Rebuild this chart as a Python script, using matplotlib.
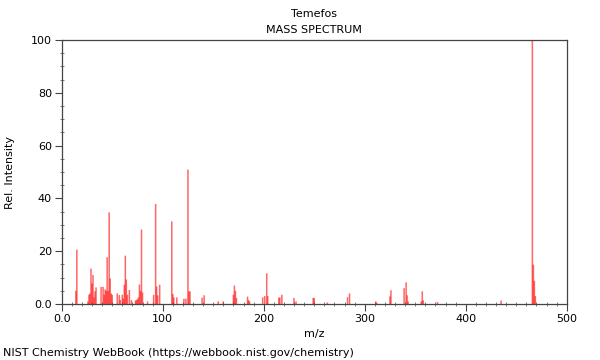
import matplotlib
matplotlib.use("Agg")
import matplotlib.pyplot as plt
from matplotlib.ticker import MultipleLocator, FuncFormatter

title = "Temefos"
subtitle = "MASS SPECTRUM"
xlabel = "m/z"
ylabel = "Rel. Intensity"
footer = "NIST Chemistry WebBook (https://webbook.nist.gov/chemistry)"

mz = [14, 15, 26, 27, 28, 29, 30, 31, 32, 33, 34, 39, 41, 42, 43, 44, 45, 46, 47, 48,
      49, 50, 55, 57, 58, 60, 61, 62, 63, 64, 65, 67, 69, 73, 74, 75, 76, 77, 78, 79,
      80, 85, 91, 93, 94, 95, 97, 109, 110, 111, 114, 121, 123, 125, 126, 127, 139, 141,
      155, 160, 170, 171, 172, 173, 184, 185, 186, 199, 201, 203, 204, 215, 216, 218,
      230, 232, 249, 250, 263, 283, 285, 311, 312, 325, 326, 339, 341, 342, 343, 356,
      357, 358, 372, 435, 466, 467, 468, 469]
intensity = [5.0, 20.6, 1.0, 3.5, 4.0, 13.4, 7.8, 11.0, 2.5, 4.8, 6.3, 6.5, 6.5, 3.5, 5.5,
             5.0, 17.7, 5.0, 34.7, 9.7, 4.0, 3.5, 4.0, 3.4, 1.5, 3.5, 2.0, 7.3, 18.3, 9.3,
             3.5, 5.3, 1.5, 1.3, 1.5, 1.8, 2.5, 7.4, 5.0, 28.2, 4.4, 1.0, 3.5, 37.9, 6.6,
             3.3, 7.3, 31.3, 3.8, 2.5, 2.5, 2.0, 2.0, 50.9, 4.8, 4.8, 2.4, 3.3, 1.0, 1.0,
             3.5, 7.0, 5.0, 2.3, 2.8, 1.5, 1.0, 2.5, 3.0, 11.6, 3.0, 2.4, 2.5, 3.5, 2.3,
             1.0, 2.3, 2.3, 0.6, 2.6, 4.0, 1.0, 0.4, 2.9, 5.2, 6.0, 8.2, 3.3, 1.0, 1.0,
             4.8, 1.4, 0.8, 1.3, 100.0, 14.9, 8.8, 3.0]

fig = plt.figure(figsize=(6, 3.6), dpi=100)
ax = fig.add_axes([61.7 / 600, 1 - 304 / 360, 505 / 600, 264 / 360])

ax.vlines(mz, 0, intensity, colors="#ff0000", alpha=0.6, linewidth=1.1, snap=False)

ax.set_xlim(0, 500)
ax.set_ylim(0, 100)
ax.xaxis.set_major_locator(MultipleLocator(100))
ax.xaxis.set_minor_locator(MultipleLocator(10))
ax.yaxis.set_major_locator(MultipleLocator(20))
ax.yaxis.set_minor_locator(MultipleLocator(5))
fmt = FuncFormatter(lambda v, p: "0.0" if abs(v) < 1e-9 else f"{int(round(v))}")
ax.xaxis.set_major_formatter(fmt)
ax.yaxis.set_major_formatter(fmt)

for s in ax.spines.values():
    s.set_color("#444444")
    s.set_linewidth(0.9)
ax.tick_params(which="major", direction="out", length=5, width=0.8, color="#444444",
               labelsize=8, pad=2)
ax.tick_params(which="minor", direction="inout", length=3, width=0.6, color="#666666")

ax.set_xlabel(xlabel, fontsize=8, labelpad=4)
fig.text(10 / 600, 1 - 172 / 360, ylabel, ha="center", va="center", rotation=90, fontsize=8)

fig.text(314 / 600, 1 - 14 / 360, title, ha="center", va="center", fontsize=8)
fig.text(314 / 600, 1 - 30 / 360, subtitle, ha="center", va="center", fontsize=8)
fig.text(3 / 600, 1 - 353 / 360, footer, ha="left", va="center", fontsize=8)

fig.savefig("out.png", dpi=100)
